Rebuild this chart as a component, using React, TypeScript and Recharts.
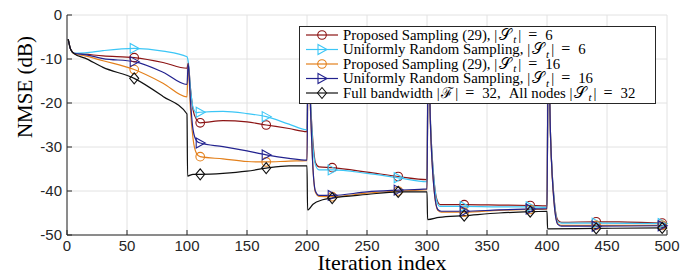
import { LineChart, Line, XAxis, YAxis, CartesianGrid } from "recharts";

type Pt = [number, number];

const ITER_TICKS = [0, 50, 100, 150, 200, 250, 300, 350, 400, 450, 500];
const NMSE_TICKS = [-50, -40, -30, -20, -10, 0];
const MARKER_ITERS = [56, 111, 166, 221, 276, 331, 386, 441, 496];

// values, NMSE in dB
const proposed6: Pt[] = [
  [1, -5.5], [3, -7.8], [6, -8.7], [15, -8.9], [30, -9.3], [56, -9.7], [80, -10.8], [100, -12.1],
  [101, -11], [103, -17], [105, -21.5], [108, -23.8], [111, -24.5], [130, -24], [150, -24.3],
  [166, -25], [185, -25.8], [200, -26.5], [201, -6], [203, -20], [205, -29], [207, -33.5],
  [210, -34.5], [221, -34.7], [250, -35.7], [276, -36.7], [300, -37.4], [301, -6], [303, -25],
  [306, -38], [309, -42.5], [311, -43.1], [331, -43.1], [360, -43.2], [386, -43.3], [400, -43.4],
  [401, -6], [403, -28], [406, -42], [409, -46.6], [412, -47.1], [441, -47.0], [460, -47.0],
  [496, -47.3], [500, -47.3],
];

const uniform6: Pt[] = [
  [1, -5.5], [3, -7.8], [6, -8.7], [15, -8.6], [30, -8.1], [56, -7.6], [80, -8.2], [100, -9.5],
  [101, -10.6], [103, -17], [105, -21], [108, -22.2], [111, -22.1], [130, -21.9], [150, -22.4],
  [166, -23.1], [185, -24.8], [200, -26.1], [201, -6], [203, -20], [205, -30], [207, -34],
  [210, -35.2], [221, -35.2], [250, -36], [276, -37], [300, -37.9], [301, -6], [303, -25],
  [306, -38], [309, -43], [311, -43.5], [331, -43.5], [360, -43.6], [386, -43.6], [400, -43.7],
  [401, -6], [403, -28], [406, -42], [409, -47], [412, -47.3], [441, -47.3], [496, -47.4],
  [500, -47.4],
];

const proposed16: Pt[] = [
  [1, -5.5], [3, -7.8], [6, -8.8], [15, -9.3], [30, -10.4], [56, -12.4], [80, -15.5], [100, -18.6],
  [101, -11], [103, -22], [105, -28], [108, -31.5], [111, -32.2], [130, -32.7], [150, -33.3],
  [166, -33.4], [185, -33.2], [200, -33.1], [201, -6], [203, -22], [205, -35], [207, -40.3],
  [210, -41.2], [221, -41.3], [250, -40.5], [276, -40], [300, -39.7], [301, -6], [303, -26],
  [306, -40], [309, -44.4], [312, -44.8], [331, -44.8], [360, -44.4], [386, -44.2], [400, -44.1],
  [401, -6], [403, -28], [406, -43], [409, -47.4], [412, -47.8], [441, -47.8], [496, -47.8],
  [500, -47.8],
];

const uniform16: Pt[] = [
  [1, -5.5], [3, -7.8], [6, -8.7], [15, -9], [30, -9.9], [56, -10.6], [80, -13], [100, -15.8],
  [101, -11], [103, -20], [105, -26], [108, -28.6], [111, -29.1], [130, -29.9], [150, -30.9],
  [166, -31.8], [185, -32.6], [200, -33], [201, -6], [203, -22], [205, -35], [207, -40],
  [210, -41], [221, -41], [250, -40.2], [276, -39.8], [300, -39.5], [301, -6], [303, -26],
  [306, -40], [309, -44.2], [312, -44.6], [331, -44.6], [360, -44.3], [386, -44.1], [400, -44.0],
  [401, -6], [403, -28], [406, -43], [409, -47.6], [412, -48], [441, -48], [496, -47.9],
  [500, -47.9],
];

const fullBand: Pt[] = [
  [1, -5.5], [3, -7.8], [6, -8.8], [15, -9.8], [30, -11.9], [56, -14.4], [80, -18.5], [100, -22.5],
  [100.5, -36.6], [105, -36.2], [111, -36.2], [130, -36], [150, -35.5], [166, -34.8], [185, -34.3],
  [200, -34.3], [200.5, -44.3], [205, -43], [213, -42], [221, -41.6], [250, -40.8], [276, -40.2],
  [300, -40.2], [300.5, -46.5], [310, -46], [331, -45.6], [360, -45], [386, -44.7], [400, -44.6],
  [400.5, -48.6], [441, -48.5], [496, -48.4], [500, -48.4],
];

type Marker = "circle" | "triangle" | "diamond";

const SERIES = [
  { key: "p6", data: proposed6, color: "#8c1414", marker: "circle" as Marker, pre: "Proposed Sampling (29), ", n: "6" },
  { key: "u6", data: uniform6, color: "#3cc6f6", marker: "triangle" as Marker, pre: "Uniformly Random Sampling, ", n: "6" },
  { key: "p16", data: proposed16, color: "#e3801c", marker: "circle" as Marker, pre: "Proposed Sampling (29), ", n: "16" },
  { key: "u16", data: uniform16, color: "#23238f", marker: "triangle" as Marker, pre: "Uniformly Random Sampling, ", n: "16" },
  { key: "full", data: fullBand, color: "#111111", marker: "diamond" as Marker, pre: "Full bandwidth ", n: "32" },
];

const SERIF = "'Liberation Serif', 'Times New Roman', serif";
const SANS = "'Liberation Sans', Arial, Helvetica, sans-serif";
const AXIS = "#262626";

function MarkerShape({ type, cx, cy, color }: { type: Marker; cx: number; cy: number; color: string }) {
  if (type === "circle") {
    return <circle cx={cx} cy={cy} r={4.3} fill="none" stroke={color} strokeWidth={1.1} />;
  }
  if (type === "triangle") {
    return (
      <polygon
        points={`${cx - 4},${cy - 5} ${cx + 5},${cy} ${cx - 4},${cy + 5}`}
        fill="none"
        stroke={color}
        strokeWidth={1.1}
      />
    );
  }
  return (
    <polygon
      points={`${cx},${cy - 5.5} ${cx + 4.5},${cy} ${cx},${cy + 5.5} ${cx - 4.5},${cy}`}
      fill="none"
      stroke={color}
      strokeWidth={1.1}
    />
  );
}

// |X_sub| = n, laid out roughly like the LaTeX legend
function absEq(sym: string, sub: string | null, n: string, k: string) {
  return [
    <tspan key={k + "a"}>|</tspan>,
    <tspan key={k + "s"} dx={1.5} fontSize={sub ? 16 : 15}>{sym}</tspan>,
    sub ? (
      <tspan key={k + "t"} dx={2.5} dy={3.5} fontSize={11} fontStyle="italic">{sub}</tspan>
    ) : null,
    <tspan key={k + "b"} dy={sub ? -3.5 : 0} dx={2}>|</tspan>,
    <tspan key={k + "e"} dx={7} fontSize={16}>=</tspan>,
    <tspan key={k + "n"} dx={8}>{n}</tspan>,
  ];
}

function XTick({ x, y, payload }: any) {
  return (
    <g>
      <line x1={x} y1={y} x2={x} y2={y - 5} stroke={AXIS} strokeWidth={1} />
      <text x={x} y={y + 16} textAnchor="middle" fontSize={15} fontFamily={SANS} fill={AXIS}>
        {payload.value}
      </text>
    </g>
  );
}

function YTick({ x, y, payload }: any) {
  return (
    <g>
      <line x1={x} y1={y} x2={x + 5} y2={y} stroke={AXIS} strokeWidth={1} />
      <text x={x - 5} y={y + 5} textAnchor="end" fontSize={15} fontFamily={SANS} fill={AXIS}>
        {payload.value}
      </text>
    </g>
  );
}

export default function App() {
  const rowY = [35, 49.5, 64, 78.5, 93];
  return (
    <div style={{ position: "relative", width: 696, height: 275, background: "#fff" }}>
      <style>{"body{margin:0}"}</style>
      <LineChart width={696} height={275} margin={{ top: 15, right: 29, bottom: 0, left: 0 }}>
        <CartesianGrid stroke="#e2e2e2" strokeWidth={1} />
        <XAxis
          dataKey="x"
          type="number"
          domain={[0, 500]}
          ticks={ITER_TICKS}
          height={40}
          tickSize={0}
          tickMargin={0}
          tickLine={false}
          axisLine={{ stroke: AXIS }}
          tick={<XTick />}
          allowDuplicatedCategory={false}
        />
        <YAxis
          type="number"
          domain={[-50, 0]}
          ticks={NMSE_TICKS}
          width={67}
          tickSize={0}
          tickMargin={0}
          tickLine={false}
          axisLine={{ stroke: AXIS }}
          tick={<YTick />}
        />
        {SERIES.map((s) => (
          <Line
            key={s.key}
            data={s.data.map(([x, y]) => ({ x, y }))}
            dataKey="y"
            type="monotone"
            stroke={s.color}
            strokeWidth={1.2}
            isAnimationActive={false}
            activeDot={false}
            dot={(p: any) =>
              MARKER_ITERS.includes(p.payload.x) ? (
                <MarkerShape key={`${s.key}-${p.index}`} type={s.marker} cx={p.cx} cy={p.cy} color={s.color} />
              ) : (
                <g key={`${s.key}-${p.index}`} />
              )
            }
          />
        ))}
      </LineChart>
      <svg
        width={696}
        height={275}
        style={{ position: "absolute", left: 0, top: 0, pointerEvents: "none" }}
      >
        <text
          transform="translate(32,87) rotate(-90)"
          textAnchor="middle"
          fontSize={21}
          fontFamily={SERIF}
          fill="#000"
        >
          NMSE (dB)
        </text>
        <text x={382} y={270} textAnchor="middle" fontSize={22} fontFamily={SERIF} fill="#000">
          Iteration index
        </text>
        <rect x={299.5} y={26.5} width={356} height={77} fill="#fff" stroke={AXIS} strokeWidth={1} />
        {SERIES.map((s, i) => (
          <g key={s.key}>
            <line x1={306} x2={338} y1={rowY[i]} y2={rowY[i]} stroke={s.color} strokeWidth={1.2} />
            <MarkerShape type={s.marker} cx={322} cy={rowY[i]} color={s.color} />
            <text x={343} y={rowY[i] + 4.5} fontSize={14.8} fontFamily={SERIF} fill="#000">
              <tspan>{s.pre}</tspan>
              {s.key === "full" ? absEq("\u2131", null, "32,", "f") : null}
              {s.key === "full" ? <tspan dx={8}>All nodes </tspan> : null}
              {absEq("\uD835\uDCAE", "t", s.n, "s")}
            </text>
          </g>
        ))}
      </svg>
    </div>
  );
}
